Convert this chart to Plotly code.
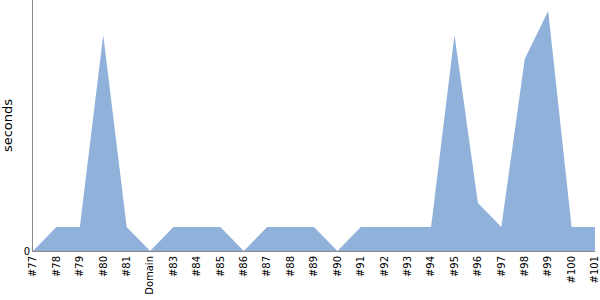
import plotly.graph_objects as go

categories = ["#77", "#78", "#79", "#80", "#81", "Domain", "#83", "#84", "#85", "#86",
              "#87", "#88", "#89", "#90", "#91", "#92", "#93", "#94", "#95", "#96",
              "#97", "#98", "#99", "#100", "#101"]
seconds = [0, 1, 1, 9, 1, 0, 1, 1, 1, 0,
           1, 1, 1, 0, 1, 1, 1, 1, 9, 2,
           1, 8, 10, 1, 1]

fig = go.Figure()
fig.add_trace(go.Scatter(
    x=categories, y=seconds, mode="lines", fill="tozeroy",
    line=dict(width=0, color="rgb(143,177,218)"),
    fillcolor="rgb(143,177,218)", hoverinfo="skip",
))
fig.update_layout(
    width=600, height=300,
    margin=dict(l=33, r=5, t=0, b=49),
    paper_bgcolor="white", plot_bgcolor="white",
    showlegend=False,
    font=dict(family="DejaVu Sans", color="black"),
)
fig.update_xaxes(
    type="category", range=[0, len(categories) - 1],
    tickangle=-90, tickfont=dict(size=10),
    showgrid=False, showline=True, linecolor="#888", linewidth=1,
    ticks="", zeroline=False,
)
fig.update_yaxes(
    range=[0, 10.46], tickvals=[0], ticktext=["0"], tickfont=dict(size=10),
    showgrid=False, showline=True, linecolor="#888", linewidth=1,
    zeroline=False, ticks="",
    title=dict(text="seconds", font=dict(size=13), standoff=8),
)
fig.write_html("out.html")
